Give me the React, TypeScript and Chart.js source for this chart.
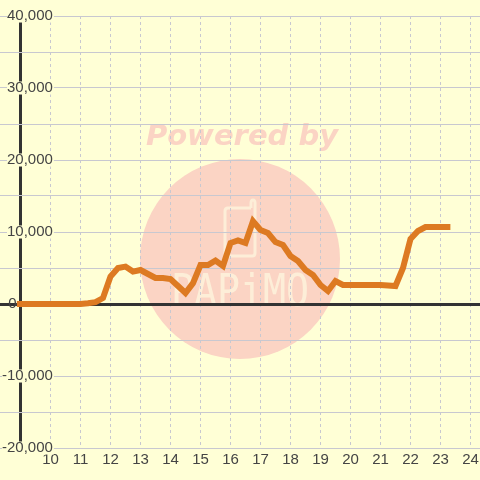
import React, { useEffect, useRef } from "react";
import { Chart, registerables } from "chart.js";

Chart.register(...registerables);

const hours = [8.88, 11, 11.25, 11.5, 11.75, 12, 12.25, 12.5, 12.75, 13, 13.25, 13.5, 13.75, 14, 14.25, 14.5, 14.75, 15, 15.25, 15.5, 15.75, 16, 16.25, 16.5, 16.75, 17, 17.25, 17.5, 17.75, 18, 18.25, 18.5, 18.75, 19, 19.25, 19.5, 19.75, 20, 20.5, 21, 21.25, 21.5, 21.75, 22, 22.25, 22.5, 22.75, 23, 23.33];
const values = [0, 0, 100, 250, 830, 3820, 5000, 5200, 4500, 4720, 4170, 3610, 3610, 3470, 2500, 1530, 2900, 5400, 5400, 6040, 5280, 8470, 8820, 8470, 11500, 10280, 9860, 8600, 8190, 6670, 5970, 4720, 4030, 2640, 1800, 3190, 2640, 2640, 2640, 2640, 2570, 2500, 5000, 9030, 10140, 10690, 10700, 10700, 10700];
const xTicks = [9, 10, 11, 12, 13, 14, 15, 16, 17, 18, 19, 20, 21, 22, 23, 24];

const BG = "#ffffd6";
const INK = "#444444";
const AXIS = "#333333";
const GRID = "#c8c8d0";
const LINE = "#dd7a22";
const MARK = "#fbd4c4";
const MARK_LIGHT = "#fdeed8";

const watermark = {
  id: "watermark",
  beforeDraw(chart: any) {
    const c = chart.ctx;
    c.save();
    c.fillStyle = BG;
    c.fillRect(0, 0, 480, 480);
    c.fillStyle = MARK;
    c.beginPath();
    c.arc(240, 259, 100, 0, Math.PI * 2);
    c.fill();
    c.textBaseline = "alphabetic";
    c.textAlign = "center";
    c.font = 'italic bold 29px "DejaVu Sans"';
    c.fillText("Powered by", 242, 145);
    c.fillStyle = MARK_LIGHT;
    c.save();
    c.translate(240, 306);
    c.scale(0.85, 1);
    c.font = '45px "DejaVu Sans Mono"';
    c.fillText("PAPiMO", 0, 0);
    c.restore();
    c.strokeStyle = MARK_LIGHT;
    c.lineWidth = 3;
    c.lineJoin = "round";
    c.beginPath();
    c.moveTo(251, 208);
    c.lineTo(228, 208);
    c.quadraticCurveTo(225, 208, 225, 211);
    c.lineTo(225, 253);
    c.quadraticCurveTo(225, 256, 228, 256);
    c.lineTo(252, 256);
    c.quadraticCurveTo(255, 256, 255, 253);
    c.lineTo(255, 203);
    c.quadraticCurveTo(255, 200, 253, 200);
    c.quadraticCurveTo(251, 200, 251, 203);
    c.lineTo(251, 208);
    c.stroke();
    c.restore();
  },
};

export default function App() {
  const ref = useRef<HTMLCanvasElement>(null);
  useEffect(() => {
    const chart = new Chart(ref.current!, {
      type: "line",
      data: {
        datasets: [
          {
            data: hours.map((h, i) => ({ x: h, y: values[i] })),
            borderColor: LINE,
            borderWidth: 6,
            pointRadius: 0,
            tension: 0,
            borderCapStyle: "butt",
            borderJoinStyle: "miter",
          },
        ],
      },
      options: {
        animation: false,
        responsive: false,
        layout: { autoPadding: false, padding: { top: 16, left: 0, right: 0, bottom: 0 } },
        plugins: { legend: { display: false }, tooltip: { enabled: false } },
        scales: {
          x: {
            type: "linear",
            position: "bottom",
            min: 8.317,
            max: 24.317,
            afterBuildTicks: (s: any) => {
              s.ticks = xTicks.map((value) => ({ value }));
            },
            afterFit: (s: any) => {
              s.height = 32;
              s.paddingLeft = 0;
              s.paddingRight = 0;
            },
            grid: {
              drawTicks: false,
              color: (c: any) => (c.tick.value === 9 ? AXIS : GRID),
              lineWidth: (c: any) => (c.tick.value === 9 ? 3 : 1),
            },
            border: {
              display: false,
              dash: (c: any) => (c.tick && c.tick.value === 9 ? [] : [3, 3]),
            },
            ticks: {
              autoSkip: false,
              maxRotation: 0,
              padding: 3,
              color: INK,
              font: { family: "Liberation Sans", size: 15 },
              callback: (v: any) => (v === 9 ? "" : String(v)),
            },
          },
          y: {
            type: "linear",
            position: { x: 10.08 } as any,
            min: -20000,
            max: 40000,
            ticks: {
              stepSize: 5000,
              padding: 0,
              color: INK,
              font: { family: "Liberation Sans", size: 15, lineHeight: 0.87 },
              showLabelBackdrop: (c: any) => c.tick.value % 10000 === 0 && c.tick.value !== 0,
              backdropColor: BG,
              backdropPadding: { top: 0, bottom: 0, left: 0, right: 1 },
              callback: (v: any) => {
                if (v === 0) return "0        \u2009";
                return v % 10000 === 0 ? v.toLocaleString("en-US") : "";
              },
            },
            grid: {
              drawTicks: false,
              color: (c: any) => (c.tick.value === 0 ? AXIS : GRID),
              lineWidth: (c: any) => (c.tick.value === 0 ? 3 : 1),
            },
            border: { display: false },
          },
        },
      },
      plugins: [watermark],
    } as any);
    return () => chart.destroy();
  }, []);
  return (
    <div style={{ position: "absolute", left: 0, top: 0, width: 480, height: 480 }}>
      <canvas ref={ref} width={480} height={480} style={{ display: "block" }} />
    </div>
  );
}
